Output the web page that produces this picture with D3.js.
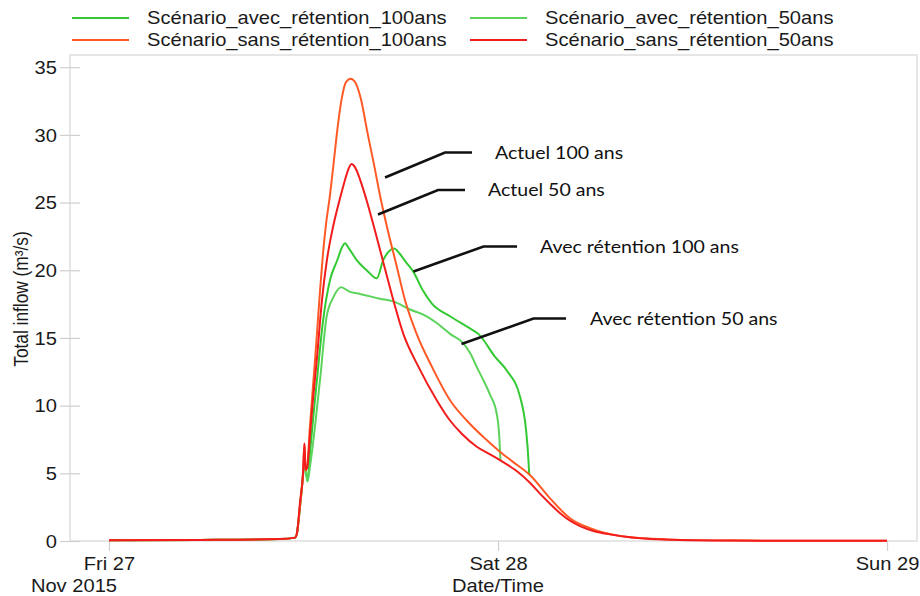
<!DOCTYPE html>
<html>
<head>
<meta charset="utf-8">
<script src="https://cdn.jsdelivr.net/npm/d3@7"></script>
<style>
  html, body { margin: 0; padding: 0; background: #fff; }
  svg { display: block; }
</style>
</head>
<body>
<svg id="chart" width="920" height="596"></svg>
<script>
// ---------- data (hours after Fri 27 Nov 2015 00:00, flow in m³/s) ----------
const seriesNames = [
  "Scénario_avec_rétention_100ans",
  "Scénario_avec_rétention_50ans",
  "Scénario_sans_rétention_100ans",
  "Scénario_sans_rétention_50ans"
];
const seriesColors = ["#33c933", "#5cd45c", "#ff5a26", "#f21c1c"];

const hoursAvec100 = [0, 5.61, 10.55, 11.48, 11.60, 11.78, 11.97, 12.06, 12.25, 12.40, 12.59, 12.83, 13.20, 13.64, 14.07, 14.38, 14.56, 14.81, 15.28, 15.90, 16.52, 16.92, 17.28, 17.58, 17.95, 18.32, 18.77, 19.37, 19.91, 21.04, 22.27, 22.79, 23.82, 24.54, 25.36, 25.73, 25.85, 25.93];
const avec100      = [0.05, 0.08, 0.15, 0.25, 0.6, 2.5, 4.8, 5.8, 4.4, 6.5, 9.0, 11.9, 16.2, 19.3, 20.7, 21.7, 22.0, 21.6, 20.75, 20.0, 19.4, 20.75, 21.4, 21.6, 21.2, 20.6, 19.9, 18.5, 17.55, 16.6, 15.7, 15.3, 13.6, 12.6, 10.66, 8.2, 6.5, 4.87];

const hoursAvec50 = [0, 5.61, 10.55, 11.48, 11.60, 11.78, 11.97, 12.06, 12.25, 12.40, 13.02, 13.43, 13.84, 14.32, 14.87, 15.49, 16.72, 17.54, 18.57, 19.60, 20.22, 21.04, 21.86, 22.27, 22.79, 23.09, 23.51, 23.92, 24.08, 24.15];
const avec50      = [0.05, 0.08, 0.15, 0.25, 0.6, 2.5, 4.8, 5.8, 4.4, 5.5, 11.9, 16.6, 18.0, 18.74, 18.4, 18.25, 17.9, 17.7, 17.1, 16.6, 16.1, 15.3, 14.6, 13.9, 12.6, 11.9, 10.8, 9.4, 7.7, 6.0];

const hoursSans100 = [0, 5.61, 10.55, 11.48, 11.60, 11.78, 11.97, 12.06, 12.12, 12.22, 12.40, 12.59, 12.80, 13.02, 13.20, 13.39, 13.64, 13.84, 14.05, 14.36, 14.62, 14.91, 15.18, 15.53, 15.94, 16.35, 16.76, 17.17, 17.75, 18.26, 18.98, 19.91, 21.04, 22.07, 23.30, 24.12, 24.86, 25.97, 27.21, 28.44, 29.68, 31.53, 34.41, 38.50, 48.00];
const sans100      = [0.05, 0.08, 0.15, 0.25, 0.6, 2.5, 5.0, 7.2, 5.2, 5.5, 8.5, 11.5, 14.8, 18.5, 21.2, 23.4, 25.6, 27.7, 30.0, 32.7, 33.9, 34.15, 33.9, 32.7, 30.2, 27.8, 25.3, 23.1, 20.3, 17.8, 15.3, 12.9, 10.4, 8.9, 7.46, 6.6, 5.9, 4.87, 3.15, 1.68, 0.94, 0.37, 0.12, 0.03, 0.01];

const hoursSans50 = [0, 5.61, 10.55, 11.48, 11.60, 11.78, 11.97, 12.06, 12.12, 12.22, 12.40, 12.59, 12.83, 13.14, 13.45, 13.84, 14.25, 14.52, 14.75, 14.97, 15.18, 15.49, 15.86, 16.37, 17.03, 17.54, 18.16, 19.08, 20.22, 21.04, 21.78, 22.69, 23.51, 24.12, 24.62, 25.23, 25.97, 26.59, 27.21, 27.83, 28.44, 29.06, 29.99, 30.91, 33.38, 38.50, 48.00];
const sans50      = [0.05, 0.08, 0.15, 0.25, 0.6, 2.8, 5.0, 7.2, 5.3, 5.4, 7.8, 10.5, 13.5, 17.8, 20.8, 23.3, 25.3, 26.5, 27.4, 27.84, 27.6, 26.7, 25.3, 23.1, 20.1, 17.8, 15.3, 12.9, 10.4, 8.9, 7.9, 6.96, 6.4, 5.98, 5.6, 5.1, 4.3, 3.5, 2.75, 2.05, 1.5, 1.1, 0.7, 0.49, 0.15, 0.03, 0.01];

const xTickHours  = [0, 24, 48];
const xTickLabels = ["Fri 27", "Sat 28", "Sun 29"];
const yTicks      = [0, 5, 10, 15, 20, 25, 30, 35];

const annotationTexts = ["Actuel 100 ans", "Actuel 50 ans", "Avec rétention 100 ans", "Avec rétention 50 ans"];

// ---------- layout ----------
const svg = d3.select("#chart");
const mLeft = 70, mRight = 917, mTop = 55, mBottom = 541;
const t0 = new Date(2015, 10, 27, 0, 0, 0).getTime();
const toDate = h => new Date(t0 + h * 3600e3);

const x = d3.scaleTime().domain([toDate(-2.406), toDate(49.85)]).range([mLeft, mRight]);
const y = d3.scaleLinear().domain([0, 35.9]).range([mBottom, mTop]);

const SX = 1.15;            // horizontal text stretch of the original picture
const axisFont = "'Liberation Sans', Arial, sans-serif";
const frameColor = "#dedede";

// frame
svg.append("rect").attr("x", mLeft).attr("y", mTop).attr("width", mRight - mLeft).attr("height", mBottom - mTop)
  .attr("fill", "none").attr("stroke", frameColor).attr("stroke-width", 1.5);

// y axis
const yAxis = svg.append("g").attr("transform", `translate(${mLeft},0)`)
  .call(d3.axisLeft(y).tickValues(yTicks).tickFormat(d3.format("d")).tickSize(10));
yAxis.select(".domain").remove();
yAxis.selectAll(".tick line").attr("x1", -10).attr("x2", 10).attr("stroke", "#cfcfcf").attr("stroke-width", 1.2);
yAxis.selectAll(".tick text")
  .attr("x", null).attr("dy", "0.36em")
  .attr("transform", `translate(-13,0) scale(${SX},1)`)
  .attr("font-family", axisFont).attr("font-size", 17.5).attr("fill", "#1a1a1a");

// x axis
const xAxis = svg.append("g").attr("transform", `translate(0,${mBottom})`)
  .call(d3.axisBottom(x).tickValues(xTickHours.map(toDate)).tickFormat((d, i) => xTickLabels[i]).tickSize(10));
xAxis.select(".domain").remove();
xAxis.selectAll(".tick line").attr("stroke", "#cfcfcf").attr("stroke-width", 1.2);
xAxis.selectAll(".tick text")
  .attr("y", null).attr("dy", 0)
  .attr("transform", `translate(0,29) scale(${SX},1)`)
  .attr("font-family", axisFont).attr("font-size", 17.5).attr("fill", "#1a1a1a");

// axis titles
svg.append("text").text("Nov 2015")
  .attr("transform", `translate(117,592) scale(${SX},1)`).attr("text-anchor", "end")
  .attr("font-family", axisFont).attr("font-size", 17.5).attr("fill", "#1a1a1a");
svg.append("text").text("Date/Time")
  .attr("transform", `translate(${x(toDate(24))},592) scale(${SX},1)`).attr("text-anchor", "middle")
  .attr("font-family", axisFont).attr("font-size", 17.5).attr("fill", "#1a1a1a");
svg.append("text").text("Total inflow (m³/s)")
  .attr("transform", `translate(28,${(mTop + mBottom) / 2 + 1}) rotate(-90) scale(1,${SX})`).attr("text-anchor", "middle")
  .attr("font-family", axisFont).attr("font-size", 17.3).attr("fill", "#1a1a1a");

// lines
const series = [
  { h: hoursAvec100, v: avec100 },
  { h: hoursAvec50, v: avec50 },
  { h: hoursSans100, v: sans100 },
  { h: hoursSans50, v: sans50 }
];
const line = d3.line().x(d => x(toDate(d[0]))).y(d => y(d[1])).curve(d3.curveMonotoneX);
series.forEach((s, i) => {
  const pts = s.h.map((h, j) => [h, s.v[j]]);
  svg.append("path").datum(pts).attr("d", line)
    .attr("fill", "none").attr("stroke", seriesColors[i]).attr("stroke-width", 2)
    .attr("stroke-linejoin", "round");
});

// legend
const legendPos = [[72, 18], [470, 18], [72, 40], [470, 40]];
seriesNames.forEach((name, i) => {
  const [lx, ly] = legendPos[i];
  svg.append("line").attr("x1", lx).attr("x2", lx + 57).attr("y1", ly).attr("y2", ly)
    .attr("stroke", seriesColors[i]).attr("stroke-width", 2);
  svg.append("text").text(name)
    .attr("transform", `translate(${lx + 75},${ly + 6}) scale(${SX},1)`)
    .attr("font-family", axisFont).attr("font-size", 17.5).attr("fill", "#1a1a1a");
});

// annotations (pointer lines + labels)
const annFont = "Lato, 'Open Sans', sans-serif";
const annLayout = [
  { tip: [385, 177.5], elbow: [445, 152.5], end: 472, tx: 495 },
  { tip: [378, 214.5], elbow: [438, 190], end: 465, tx: 488 },
  { tip: [413.5, 271.5], elbow: [483.5, 246.5], end: 517, tx: 540 },
  { tip: [461.5, 344], elbow: [533.5, 318.5], end: 566, tx: 590 }
];
annotationTexts.forEach((txt, i) => {
  const a = annLayout[i];
  svg.append("path")
    .attr("d", `M${a.tip[0]},${a.tip[1]}L${a.elbow[0]},${a.elbow[1]}L${a.end},${a.elbow[1]}`)
    .attr("fill", "none").attr("stroke", "#111").attr("stroke-width", 2.6);
  svg.append("text").text(txt)
    .attr("transform", `translate(${a.tx},${a.elbow[1] + 6}) scale(${SX},1)`)
    .attr("font-family", annFont).attr("font-size", 17).attr("fill", "#111");
});
</script>
</body>
</html>
